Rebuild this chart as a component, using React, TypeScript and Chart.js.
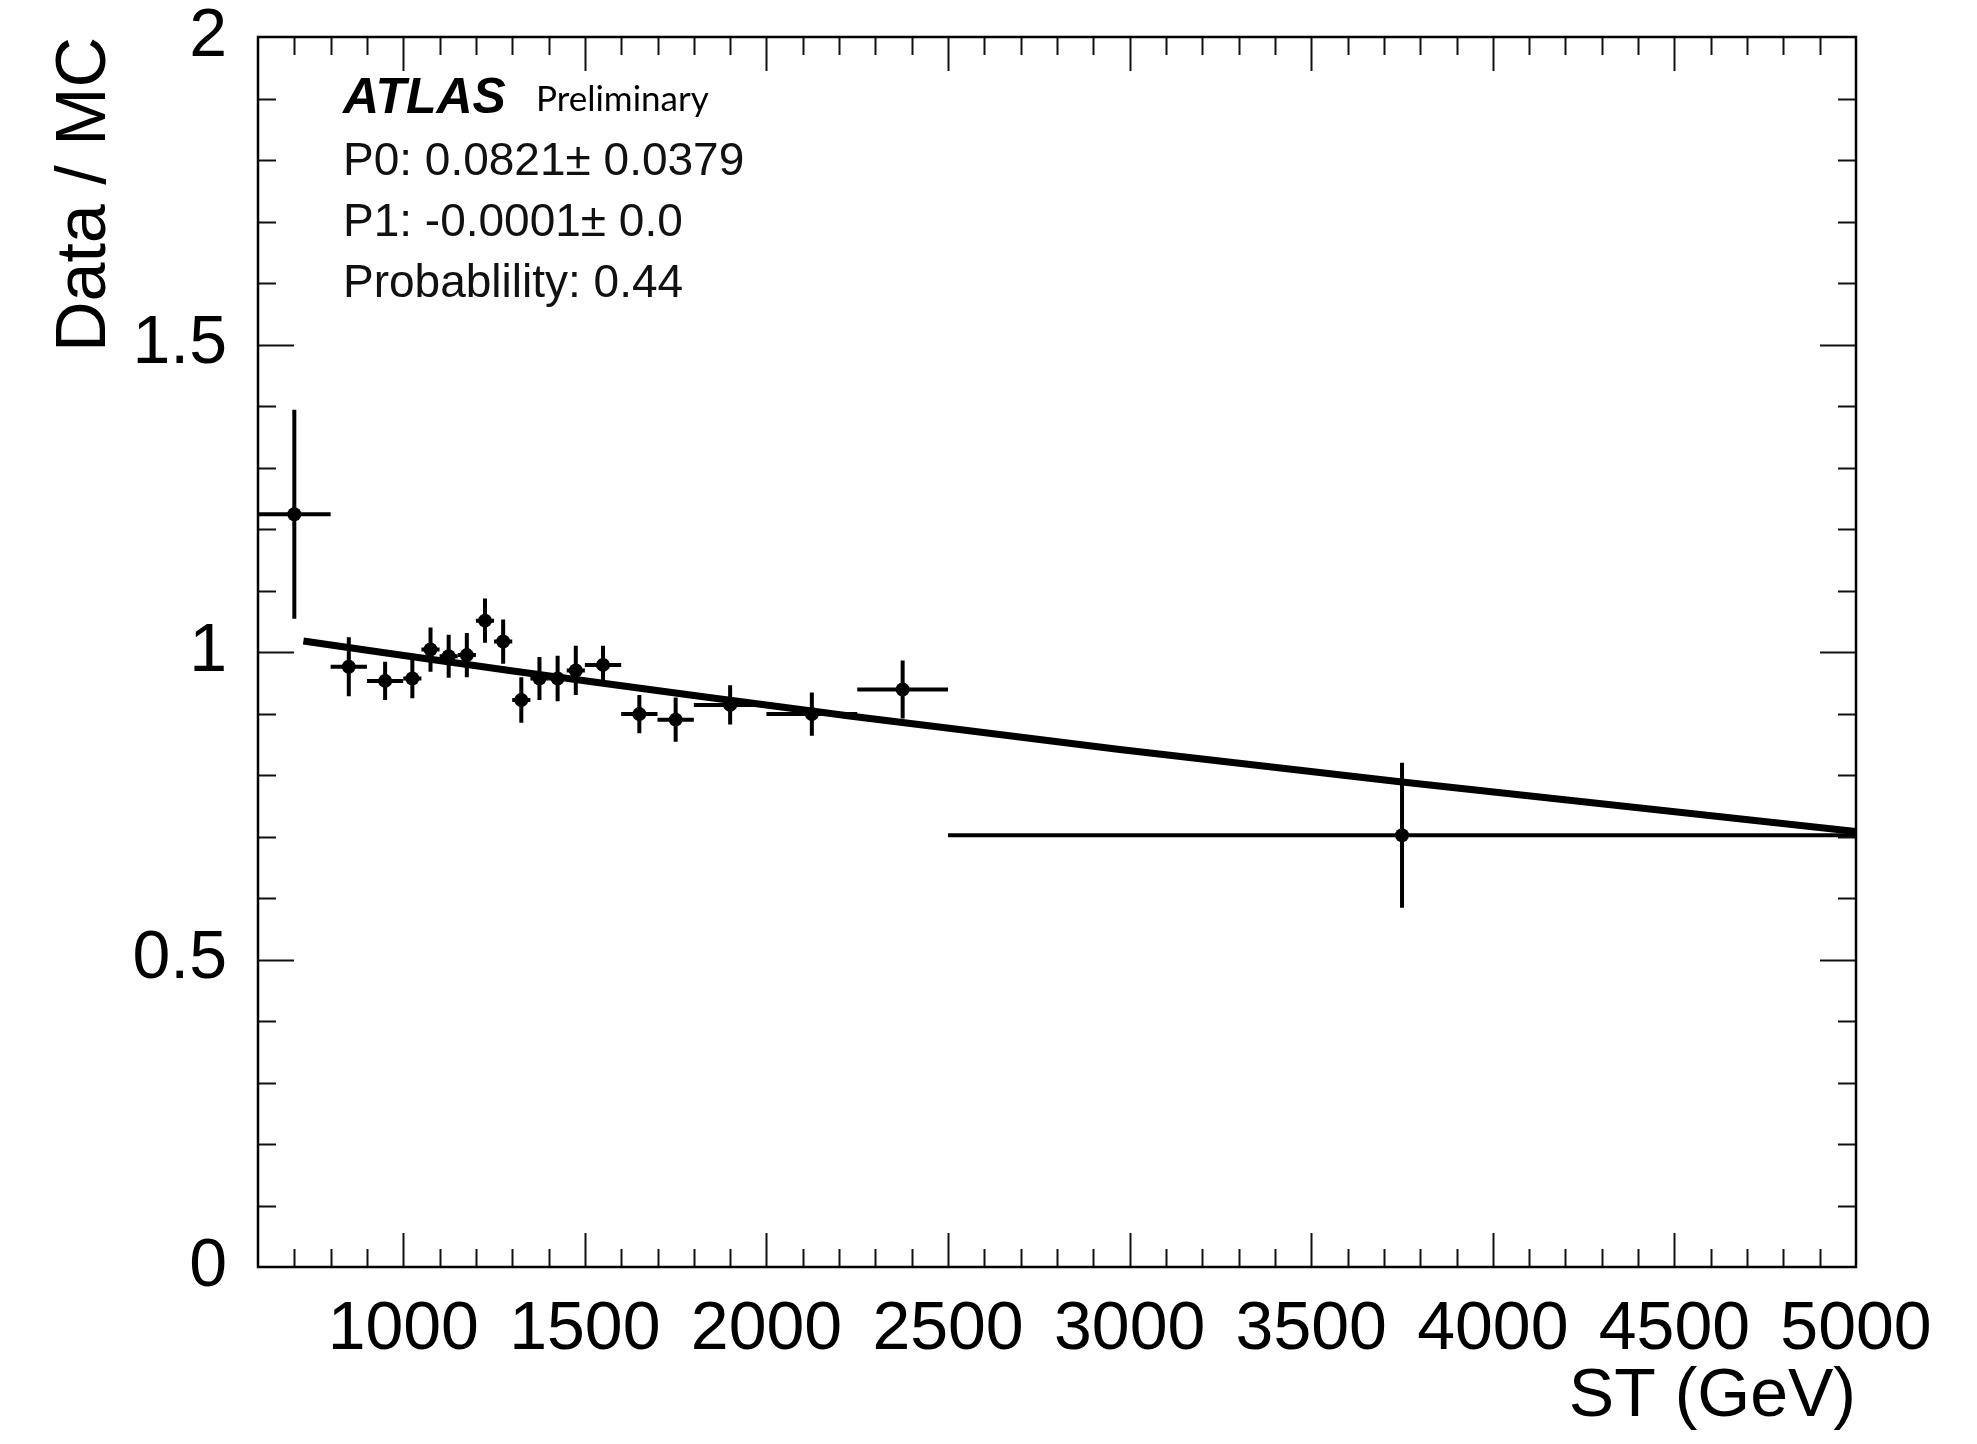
import React, { useEffect, useRef } from "react";
import { Chart, registerables } from "chart.js";

Chart.register(...registerables);

// ---- data ----
const binLow = [600, 800, 900, 1000, 1050, 1100, 1150, 1200, 1250, 1300, 1350, 1400, 1450, 1500, 1600, 1700, 1800, 2000, 2250, 2500];
const binHigh = [800, 900, 1000, 1050, 1100, 1150, 1200, 1250, 1300, 1350, 1400, 1450, 1500, 1600, 1700, 1800, 2000, 2250, 2500, 5000];
const stCenter = [700, 850, 950, 1025, 1075, 1125, 1175, 1225, 1275, 1325, 1375, 1425, 1475, 1550, 1650, 1750, 1900, 2125, 2375, 3750];
const ratio = [1.224, 0.976, 0.953, 0.957, 1.004, 0.993, 0.995, 1.051, 1.017, 0.922, 0.957, 0.957, 0.970, 0.979, 0.899, 0.890, 0.914, 0.899, 0.939, 0.702];
const ratioErr = [0.170, 0.048, 0.031, 0.032, 0.036, 0.035, 0.036, 0.036, 0.036, 0.037, 0.035, 0.037, 0.040, 0.031, 0.031, 0.036, 0.032, 0.035, 0.047, 0.118];

const fitST = [725, 934, 1302, 1540, 1816, 2036, 2229, 2531, 2967, 3744, 5000];
const fitRatio = [1.018, 1.000, 0.969, 0.950, 0.928, 0.911, 0.896, 0.874, 0.842, 0.789, 0.708];

const xTickLabels = [1000, 1500, 2000, 2500, 3000, 3500, 4000, 4500, 5000];
const yTickLabels = [0, 0.5, 1, 1.5, 2];

const xTitle = "ST (GeV)";
const yTitle = "Data / MC";
const atlasLabel = "ATLAS";
const prelimLabel = "Preliminary";
const fitInfo = ["P0: 0.0821\u00b1 0.0379", "P1: -0.0001\u00b1 0.0", "Probablility: 0.44"];

const FONT = "'Liberation Sans', Arial, Helvetica, sans-serif";

export default function App() {
  const ref = useRef<HTMLCanvasElement>(null);

  useEffect(() => {
    const canvas = ref.current;
    if (!canvas) return;

    const points = stCenter.map((x, i) => ({ x, y: ratio[i] }));
    const fit = fitST.map((x, i) => ({ x, y: fitRatio[i] }));

    const errorBars = {
      id: "errorBars",
      afterDatasetsDraw(chart: any) {
        const { ctx, scales } = chart;
        const xs = scales.x;
        const ys = scales.y;
        ctx.save();
        ctx.beginPath();
        ctx.rect(chart.chartArea.left, chart.chartArea.top, chart.chartArea.right - chart.chartArea.left, chart.chartArea.bottom - chart.chartArea.top);
        ctx.clip();
        ctx.strokeStyle = "#000";
        ctx.lineWidth = 4;
        ctx.lineCap = "butt";
        for (let i = 0; i < stCenter.length; i++) {
          const cx = xs.getPixelForValue(stCenter[i]);
          const cy = ys.getPixelForValue(ratio[i]);
          const x0 = xs.getPixelForValue(binLow[i]);
          const x1 = xs.getPixelForValue(binHigh[i]);
          const y0 = ys.getPixelForValue(ratio[i] - ratioErr[i]);
          const y1 = ys.getPixelForValue(ratio[i] + ratioErr[i]);
          ctx.beginPath();
          ctx.moveTo(x0, cy);
          ctx.lineTo(x1, cy);
          ctx.moveTo(cx, y0);
          ctx.lineTo(cx, y1);
          ctx.stroke();
        }
        ctx.restore();
      },
    };

    const frame = {
      id: "frame",
      afterDraw(chart: any) {
        const { ctx, scales, chartArea } = chart;
        const { left, right, top, bottom } = chartArea;
        const xs = scales.x;
        const ys = scales.y;
        ctx.save();
        ctx.strokeStyle = "#111";
        ctx.lineWidth = 2;
        // x ticks (inside, bottom and top)
        xs.ticks.forEach((t: any) => {
          const v = Math.round(t.value);
          if (v <= 600 || v >= 5000) return;
          const px = Math.round(xs.getPixelForValue(v)) + 0.5;
          const len = v % 500 === 0 ? 34 : 18;
          ctx.beginPath();
          ctx.moveTo(px, bottom);
          ctx.lineTo(px, bottom - len);
          ctx.moveTo(px, top);
          ctx.lineTo(px, top + len);
          ctx.stroke();
        });
        // y ticks (inside, left and right)
        ys.ticks.forEach((t: any) => {
          const v = t.value;
          if (v <= 0.0001 || v >= 1.9999) return;
          const py = Math.round(ys.getPixelForValue(v)) + 0.5;
          const major = Math.abs(v * 2 - Math.round(v * 2)) < 1e-6;
          const len = major ? 36 : 18;
          ctx.beginPath();
          ctx.moveTo(left, py);
          ctx.lineTo(left + len, py);
          ctx.moveTo(right, py);
          ctx.lineTo(right - len, py);
          ctx.stroke();
        });
        ctx.lineWidth = 2.5;
        ctx.strokeStyle = "#000";
        ctx.strokeRect(left, top, right - left, bottom - top);

        // annotations
        const tx = left + 85;
        ctx.fillStyle = "#000";
        ctx.textAlign = "left";
        ctx.textBaseline = "middle";
        ctx.font = `italic bold 50px ${FONT}`;
        ctx.fillText(atlasLabel, tx, top + 62);
        ctx.font = `35px Lato, 'Open Sans', sans-serif`;
        ctx.fillText(prelimLabel, left + 278, top + 63);
        ctx.fillStyle = "#111";
        ctx.font = `46px ${FONT}`;
        fitInfo.forEach((s, i) => {
          ctx.fillText(s, tx, top + 125 + i * 61);
        });
        ctx.restore();
      },
    };

    const chart = new Chart(canvas, {
      type: "scatter",
      data: {
        datasets: [
          {
            label: "fit",
            data: fit,
            showLine: true,
            borderColor: "#000",
            backgroundColor: "#000",
            borderWidth: 7,
            pointRadius: 0,
            fill: false,
            tension: 0,
            order: 2,
          } as any,
          {
            label: "data",
            data: points,
            pointStyle: "circle",
            pointRadius: 7,
            backgroundColor: "#000",
            borderColor: "#000",
            borderWidth: 0,
            showLine: false,
            order: 1,
          } as any,
        ],
      },
      options: {
        responsive: false,
        animation: false,
        devicePixelRatio: 1,
        layout: { padding: { left: 0, right: 121, top: 37, bottom: 0 } },
        plugins: { legend: { display: false }, tooltip: { enabled: false } },
        scales: {
          x: {
            type: "linear",
            min: 600,
            max: 5000,
            afterFit: (s: any) => {
              s.height = 177;
              s.paddingLeft = 0;
              s.paddingRight = 0;
              s.paddingTop = 0;
              s.paddingBottom = 0;
            },
            grid: { display: false, drawTicks: false, drawOnChartArea: false },
            border: { display: false },
            ticks: {
              stepSize: 100,
              autoSkip: false,
              maxTicksLimit: 100,
              maxRotation: 0,
              minRotation: 0,
              padding: 22,
              color: "#000",
              font: { family: FONT, size: 68 },
              callback: (v: any) => {
                const r = Math.round(Number(v));
                return xTickLabels.includes(r) ? String(r) : "";
              },
            },
            title: {
              display: true,
              text: xTitle,
              align: "end",
              color: "#000",
              font: { family: FONT, size: 68 },
              padding: { top: 0, bottom: 6 },
            },
          },
          y: {
            type: "linear",
            min: 0,
            max: 2,
            afterFit: (s: any) => {
              s.width = 258;
              s.paddingLeft = 0;
              s.paddingRight = 0;
              s.paddingTop = 0;
              s.paddingBottom = 0;
            },
            grid: { display: false, drawTicks: false, drawOnChartArea: false },
            border: { display: false },
            ticks: {
              stepSize: 0.1,
              autoSkip: false,
              maxTicksLimit: 100,
              padding: 31,
              color: "#000",
              font: { family: FONT, size: 68, lineHeight: 1 },
              callback: (v: any) => {
                const r = Math.round(Number(v) * 10) / 10;
                return yTickLabels.includes(r) ? String(r) : "";
              },
            },
            title: {
              display: true,
              text: yTitle,
              align: "end",
              color: "#000",
              font: { family: FONT, size: 70 },
              padding: { top: 44, bottom: 0 },
            },
          },
        },
      },
      plugins: [errorBars, frame],
    });

    return () => {
      chart.destroy();
    };
  }, []);

  return (
    <div style={{ position: "fixed", left: 0, top: 0, width: 1977, height: 1444, background: "#fff" }}>
      <canvas ref={ref} width={1977} height={1444} style={{ display: "block", width: 1977, height: 1444 }} />
    </div>
  );
}
